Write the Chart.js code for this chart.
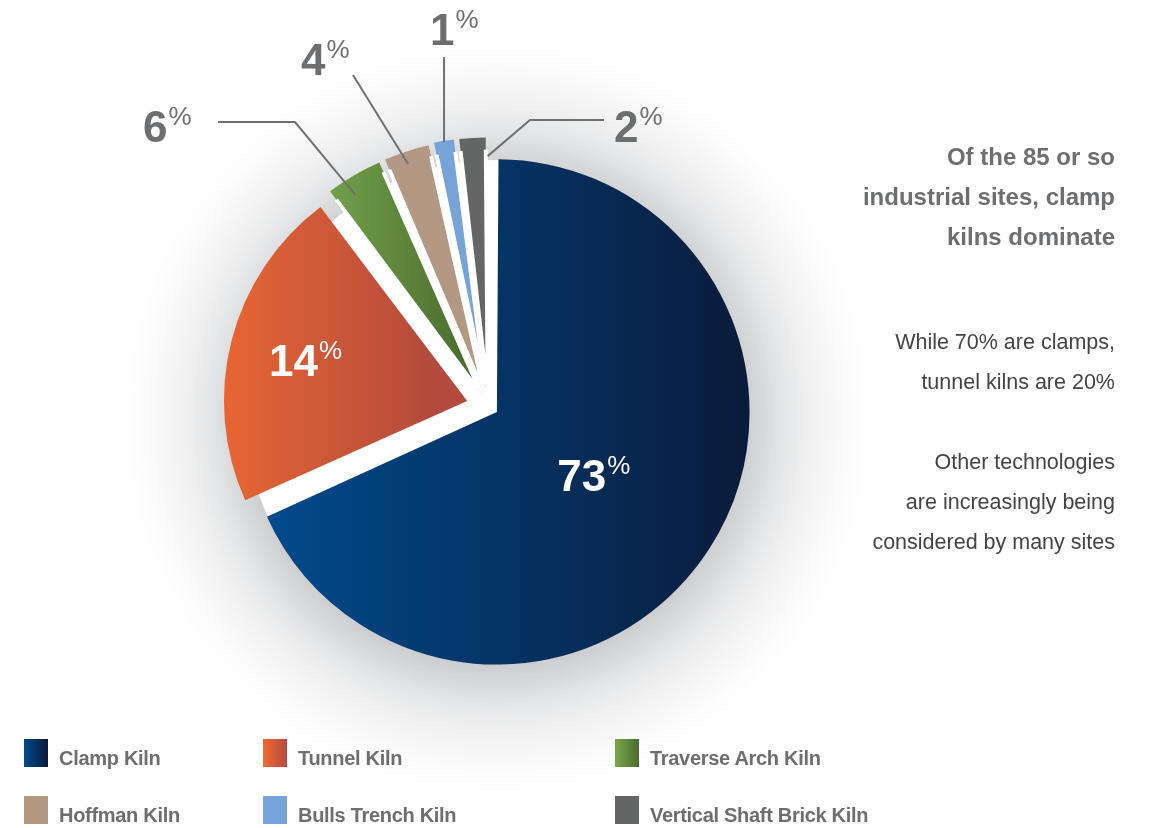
<!DOCTYPE html>
<html>
<head>
<meta charset="utf-8">
<script src="https://cdn.jsdelivr.net/npm/chart.js@4.4.1/dist/chart.umd.min.js"></script>
<style>
  html, body { margin: 0; padding: 0; background: #fff; }
  body { width: 1151px; height: 828px; position: relative; overflow: hidden; font-family: "Liberation Sans", Arial, sans-serif; }
  #kilnChart { position: absolute; left: 0; top: 0; }
  .headline { position: absolute; right: 36px; top: 137px; width: 330px; text-align: right; font-size: 24px; font-weight: bold; line-height: 40px; color: #6d6e70; }
  .note { position: absolute; right: 36px; width: 330px; text-align: right; font-size: 21.5px; line-height: 40px; color: #444; }
  .legend-item { position: absolute; height: 28px; }
  .legend-item .swatch { position: absolute; left: 0; top: 0; width: 24px; height: 28px; }
  .legend-item .name { position: absolute; left: 35px; top: 5px; white-space: nowrap; font-size: 20px; font-weight: bold; line-height: 28px; color: #6d6e70; letter-spacing: -0.3px; }
</style>
</head>
<body>
<canvas id="kilnChart" width="1151" height="828"></canvas>

<div class="headline">Of the 85 or so<br>industrial sites, clamp<br>kilns dominate</div>
<div class="note" style="top:322px">While 70% are clamps,<br>tunnel kilns are 20%</div>
<div class="note" style="top:442px">Other technologies<br>are increasingly being<br>considered by many sites</div>
<div id="legend"></div>

<script>
const kilnTypes = ['Clamp Kiln', 'Tunnel Kiln', 'Traverse Arch Kiln', 'Hoffman Kiln', 'Bulls Trench Kiln', 'Vertical Shaft Brick Kiln']
// slice sizes as they are drawn in the picture (share of the circle, %)
const sliceShares = [68.3, 21.4, 3.8, 3.1, 1.5, 1.9]
// the percentages printed on the chart
const shareLabels = ['73', '14', '6', '4', '1', '2']

const fillStops = [
    ['#004a8c', '#0a1b3a'],
    ['#f06a31', '#b44a3d'],
    ['#78a74f', '#4a6c2d'],
    ['#b39884', '#b39884'],
    ['#76a4d9', '#76a4d9'],
    ['#646565', '#646565']
]
// horizontal reach of each gradient, in radii from the pie centre
const fillSpan = [[-0.95, 1.05], [-1.15, -0.15], [-0.7, -0.05], [0, 0], [0, 0], [0, 0]]
// how far each slice is pulled out (chart.js moves a slice offset/4 px)
const sliceOffset = [40, 88, 56, 56, 56, 56]
// white edge trimmed inside the thin slices
const sliceEdge = [0, 0, 2, 2, 2, 2]

const pieRadius = 243
const labelGray = '#6d6e70'

// where the printed labels go: inside the slice, or out with a leader line
const labelSpots = [
    { inside: true, rFrac: 0.46 },
    { inside: true, rFrac: 0.64 },
    { x: 143, y: 142, line: [[218, 122], [295, 122]], tip: [0.35, 0.93] },
    { x: 301, y: 75, line: [[353, 75]], tip: [0.45, 0.95] },
    { x: 430, y: 45, vertical: 57, tip: [0.5, 1.0] },
    { x: 614, y: 142, line: [[604, 120], [530, 120]], tip: [1.0, 0.93] }
]

function sliceFill(context) {
    const chart = context.chart
    const area = chart.chartArea
    const i = context.dataIndex
    const [c0, c1] = fillStops[i]
    if (!area || c0 === c1) return c0
    const cx = (area.left + area.right) / 2
    const g = chart.ctx.createLinearGradient(cx + fillSpan[i][0] * pieRadius, 0, cx + fillSpan[i][1] * pieRadius, 0)
    g.addColorStop(0, c0)
    g.addColorStop(1, c1)
    return g
}

function arcPoint(el, angleFrac, rFrac) {
    const p = el.getProps(['x', 'y', 'startAngle', 'endAngle', 'outerRadius'])
    const mid = (p.startAngle + p.endAngle) / 2
    const shift = (el.options.offset || 0) / 4
    const a = p.startAngle + (p.endAngle - p.startAngle) * angleFrac
    const r = (p.outerRadius + shift * 0.8) * rFrac
    return {
        x: p.x + Math.cos(mid) * shift + Math.cos(a) * r,
        y: p.y + Math.sin(mid) * shift + Math.sin(a) * r
    }
}

// soft grey glow round the pie, with a white disc under the slices
const pieShadow = {
    id: 'pieShadow',
    beforeDatasetsDraw(chart) {
        const arc = chart.getDatasetMeta(0).data[0]
        if (!arc) return
        const ctx = chart.ctx
        const c = arcPoint(arc, 0.5, 0)
        const cx = c.x, cy = c.y, r = 253
        const g = ctx.createRadialGradient(cx, cy + 6, r - 20, cx, cy + 6, r + 120)
        g.addColorStop(0, 'rgba(150,153,158,0.55)')
        g.addColorStop(0.14, 'rgba(150,153,158,0.46)')
        g.addColorStop(0.36, 'rgba(150,153,158,0.27)')
        g.addColorStop(0.57, 'rgba(150,153,158,0.14)')
        g.addColorStop(0.86, 'rgba(150,153,158,0.04)')
        g.addColorStop(1, 'rgba(150,153,158,0)')
        ctx.save()
        ctx.fillStyle = g
        ctx.beginPath()
        ctx.arc(cx, cy + 6, r + 120, 0, Math.PI * 2)
        ctx.fill()
        ctx.fillStyle = '#fff'
        ctx.beginPath()
        ctx.arc(cx, cy, r - 1, 0, Math.PI * 2)
        ctx.fill()
        ctx.restore()
    }
}

function drawPercent(ctx, num, x, y, color, centred) {
    ctx.font = 'bold 44px "Liberation Sans", Arial, sans-serif'
    const wNum = ctx.measureText(num).width
    ctx.font = '26px "Liberation Sans", Arial, sans-serif'
    const wPct = ctx.measureText('%').width
    let x0 = x, base = y
    if (centred) {
        x0 = x - (wNum + 1 + wPct) / 2
        base = y + 16
    }
    ctx.fillStyle = color
    ctx.textAlign = 'left'
    ctx.textBaseline = 'alphabetic'
    ctx.font = 'bold 44px "Liberation Sans", Arial, sans-serif'
    ctx.fillText(num, x0, base)
    ctx.font = '26px "Liberation Sans", Arial, sans-serif'
    ctx.fillText('%', x0 + wNum + 1, base - 17)
}

const pieLabels = {
    id: 'pieLabels',
    afterDatasetsDraw(chart) {
        const ctx = chart.ctx
        const arcs = chart.getDatasetMeta(0).data
        ctx.save()
        arcs.forEach((el, i) => {
            const spot = labelSpots[i]
            if (spot.inside) {
                const p = arcPoint(el, 0.5, spot.rFrac)
                drawPercent(ctx, shareLabels[i], p.x, p.y, '#fff', true)
                return
            }
            const tip = arcPoint(el, spot.tip[0], spot.tip[1])
            ctx.strokeStyle = '#6f7072'
            ctx.lineWidth = 2
            ctx.beginPath()
            if (spot.vertical) {
                ctx.moveTo(tip.x, spot.vertical)
            } else {
                spot.line.forEach((pt, k) => k === 0 ? ctx.moveTo(pt[0], pt[1]) : ctx.lineTo(pt[0], pt[1]))
            }
            ctx.lineTo(tip.x, tip.y)
            ctx.stroke()
            drawPercent(ctx, shareLabels[i], spot.x, spot.y, labelGray, false)
        })
        ctx.restore()
    }
}

const canvas = document.getElementById('kilnChart')
const chart = new Chart(canvas, {
    type: 'pie',
    data: {
        labels: kilnTypes,
        datasets: [{
            data: sliceShares,
            backgroundColor: sliceFill,
            borderColor: '#fff',
            borderWidth: sliceEdge,
            borderAlign: 'inner',
            offset: sliceOffset,
            radius: pieRadius
        }]
    },
    options: {
        responsive: false,
        animation: false,
        events: [],
        layout: { padding: { left: 0, right: 174, top: 0, bottom: 15 } },
        plugins: {
            legend: { display: false },
            tooltip: { enabled: false }
        }
    },
    plugins: [pieShadow, pieLabels]
})

// legend below the pie, three per row
const legendCols = [24, 263, 615]
const legendRows = [739, 796]
const legendBox = document.getElementById('legend')
kilnTypes.forEach((name, i) => {
    const item = document.createElement('div')
    item.className = 'legend-item'
    item.style.left = legendCols[i % 3] + 'px'
    item.style.top = legendRows[Math.floor(i / 3)] + 'px'
    const sw = document.createElement('div')
    sw.className = 'swatch'
    sw.style.background = `linear-gradient(to right, ${fillStops[i][0]}, ${fillStops[i][1]})`
    const txt = document.createElement('div')
    txt.className = 'name'
    txt.textContent = name
    item.appendChild(sw)
    item.appendChild(txt)
    legendBox.appendChild(item)
})
</script>
</body>
</html>
